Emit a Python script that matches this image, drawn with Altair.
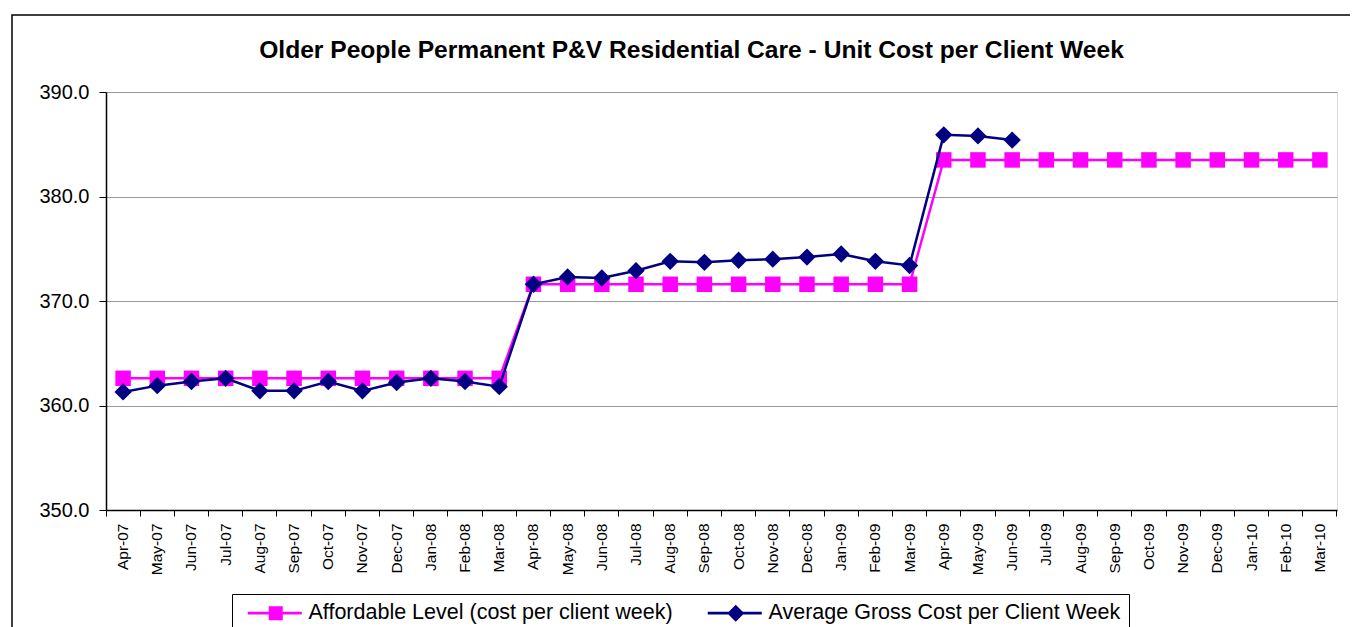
import altair as alt
import pandas as pd

months = ["Apr-07", "May-07", "Jun-07", "Jul-07", "Aug-07", "Sep-07", "Oct-07", "Nov-07",
          "Dec-07", "Jan-08", "Feb-08", "Mar-08", "Apr-08", "May-08", "Jun-08", "Jul-08",
          "Aug-08", "Sep-08", "Oct-08", "Nov-08", "Dec-08", "Jan-09", "Feb-09", "Mar-09",
          "Apr-09", "May-09", "Jun-09", "Jul-09", "Aug-09", "Sep-09", "Oct-09", "Nov-09",
          "Dec-09", "Jan-10", "Feb-10", "Mar-10"]

affordable = [362.6, 362.6, 362.6, 362.6, 362.6, 362.6, 362.6, 362.6, 362.6, 362.6, 362.6, 362.6,
              371.6, 371.6, 371.6, 371.6, 371.6, 371.6, 371.6, 371.6, 371.6, 371.6, 371.6, 371.6,
              383.5, 383.5, 383.5, 383.5, 383.5, 383.5, 383.5, 383.5, 383.5, 383.5, 383.5, 383.5]

average = [361.3, 361.9, 362.3, 362.6, 361.4, 361.4, 362.3, 361.4, 362.2, 362.6, 362.3, 361.8,
           371.6, 372.3, 372.2, 372.9, 373.8, 373.7, 373.9, 374.0, 374.2, 374.5, 373.8, 373.4,
           385.9, 385.8, 385.4]

series_names = ["Affordable Level (cost per client week)", "Average Gross Cost per Client Week"]
series_colors = ["#FF00FF", "#000080"]
y_ticks = [350, 360, 370, 380, 390]

rows = []
for m, v in zip(months, affordable):
    rows.append({"month": m, "series": series_names[0], "value": v})
for m, v in zip(months, average):
    rows.append({"month": m, "series": series_names[1], "value": v})
df = pd.DataFrame(rows)

FONT = "Liberation Sans, Arial, sans-serif"
PW, PH = 1231, 418

x_enc = alt.X(
    "month:O", sort=months, title=None,
    scale=alt.Scale(type="band", paddingInner=0, paddingOuter=0),
    axis=alt.Axis(labelAngle=-90, labelAlign="right", labelBaseline="middle",
                  labelFontSize=15.5, labelFont=FONT, labelColor="black",
                  bandPosition=1, tickExtra=True, labelOffset=0,
                  tickColor="black", tickSize=6, domainColor="black", domainWidth=1.5,
                  labelPadding=7, grid=False),
)
y_enc = alt.Y(
    "value:Q", title=None,
    scale=alt.Scale(domain=[350, 390], nice=False, zero=False),
    axis=alt.Axis(values=y_ticks, format=".1f", labelFontSize=20, labelFont=FONT,
                  labelColor="black", tickColor="black", tickSize=7, labelPadding=10,
                  domainColor="black", domainWidth=1.5, grid=True, gridColor="#999999",
                  gridWidth=1),
)

base = alt.Chart(df)

pink_line = base.transform_filter(alt.datum.series == series_names[0]).mark_line(
    color=series_colors[0], strokeWidth=2.5).encode(x=x_enc, y=y_enc)
pink_pts = base.transform_filter(alt.datum.series == series_names[0]).mark_point(
    shape="square", filled=True, opacity=1, size=240, color=series_colors[0]).encode(x=x_enc, y=y_enc)
navy_line = base.transform_filter(alt.datum.series == series_names[1]).mark_line(
    color=series_colors[1], strokeWidth=2.5).encode(x=x_enc, y=y_enc)
navy_pts = base.transform_filter(alt.datum.series == series_names[1]).mark_point(
    shape="diamond", filled=True, opacity=1, size=300, color=series_colors[1]).encode(x=x_enc, y=y_enc)

legend_paths = [
    "M-0.3,-0.13H5.1V0.13H-0.3Z M1.8,-0.7H3.2V0.7H1.8Z",
    "M-0.3,-0.13H5.1V0.13H-0.3Z M2.5,-0.85L3.35,0L2.5,0.85L1.65,0Z",
]
leg = alt.Legend(title=None, orient="none", legendX=126, legendY=502,
                 direction="horizontal", symbolSize=400,
                 labelFontSize=21.5, labelFont=FONT, labelColor="black",
                 labelLimit=1000, labelOffset=47, columnPadding=27,
                 padding=8, strokeColor="black", fillColor="white",
                 symbolStrokeWidth=0)
legend_layer = base.transform_filter("false").mark_point(filled=True, opacity=1).encode(
    x=x_enc, y=y_enc,
    color=alt.Color("series:N", scale=alt.Scale(domain=series_names, range=series_colors), legend=leg),
    shape=alt.Shape("series:N", scale=alt.Scale(domain=series_names, range=legend_paths), legend=leg),
)

frame = alt.Chart(pd.DataFrame({"k": [0]})).mark_rect(
    filled=False, stroke="black", strokeWidth=1.5, clip=False).encode(
    x=alt.value(-94), x2=alt.value(1400), y=alt.value(-77), y2=alt.value(700))

chart = alt.layer(frame, pink_line, pink_pts, navy_line, navy_pts, legend_layer).properties(
    width=PW, height=PH,
    title=alt.TitleParams(
        "Older People Permanent P&V Residential Care - Unit Cost per Client Week",
        font=FONT, fontSize=24.6, fontWeight="bold", color="black", anchor="middle",
        frame="group", baseline="alphabetic", dx=-30, dy=68, offset=0),
    autosize=alt.AutoSizeParams(type="none"),
    padding={"left": 98, "top": 84, "right": 13, "bottom": 117},
).configure_view(stroke="#888888", strokeWidth=2).configure(background="white")

chart.save("out.html", embed_options={"renderer": "svg", "actions": False})
